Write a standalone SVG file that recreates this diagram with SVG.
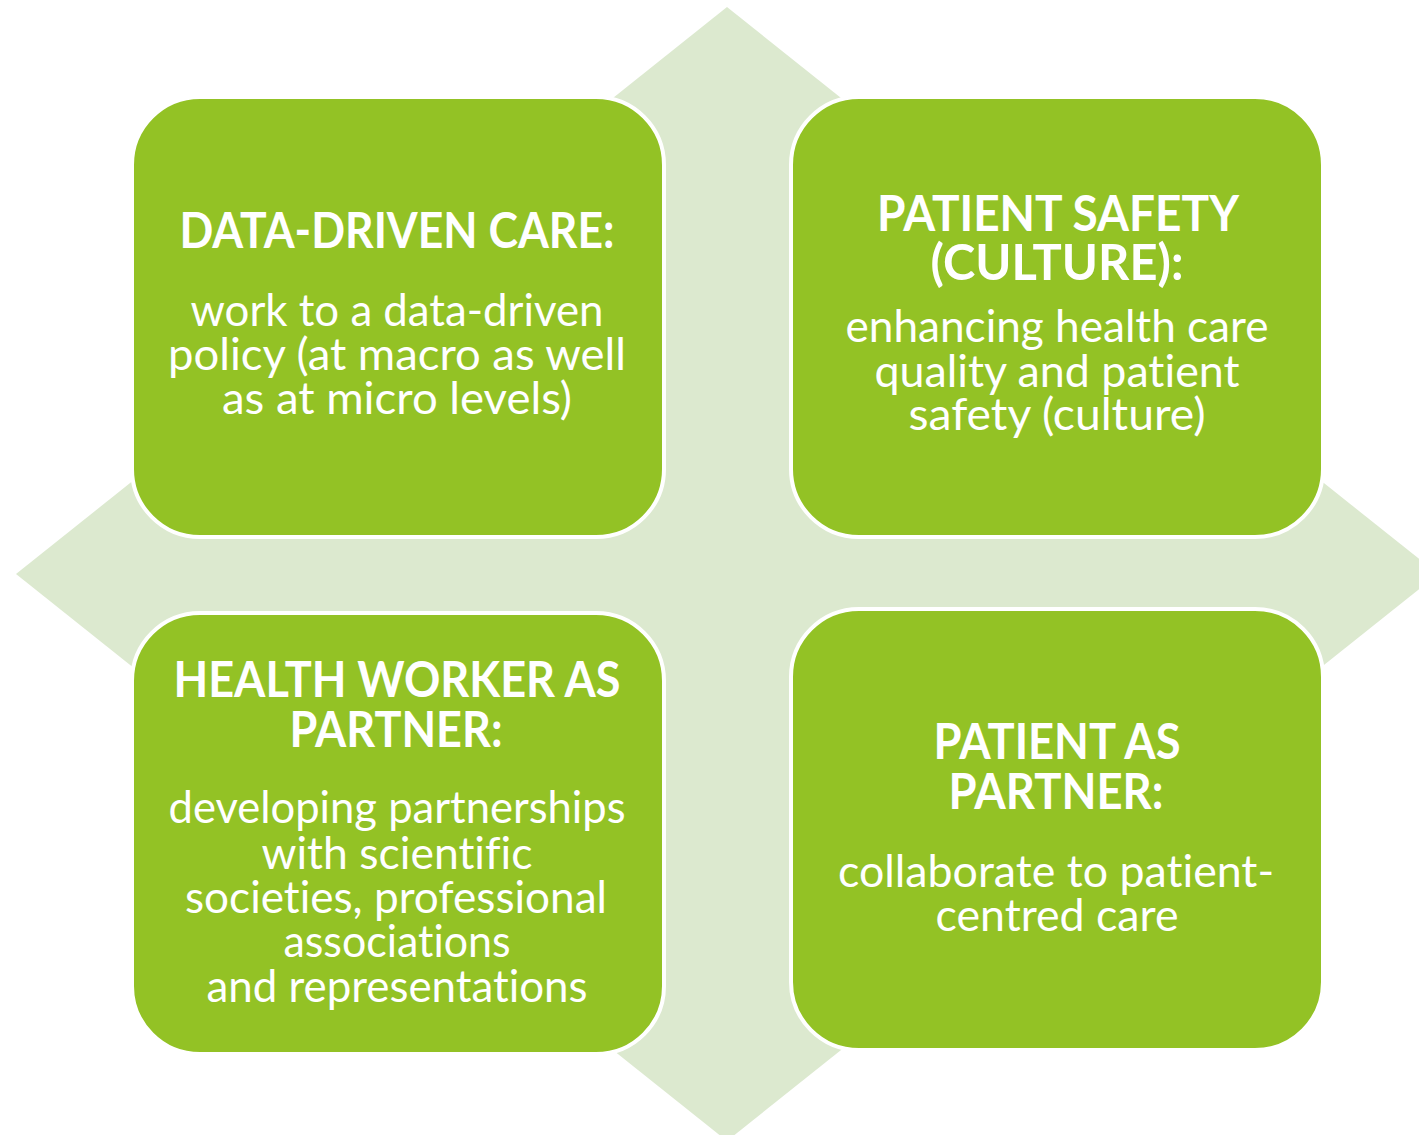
<svg xmlns="http://www.w3.org/2000/svg" width="1419" height="1135" viewBox="0 0 1419 1135">
  <style>
    .box { fill: #93C225; stroke: #FFFFFF; stroke-width: 4; }
    .t { font-family: Lato, "Open Sans", "Liberation Sans", sans-serif; font-weight: bold; font-size: 49px; fill: #FFFFFF; text-anchor: middle; font-variant-ligatures: none; }
    .b { font-family: Lato, "Open Sans", "Liberation Sans", sans-serif; font-size: 44px; fill: #FFFFFF; text-anchor: middle; font-variant-ligatures: none; }
  </style>
  <rect width="1419" height="1135" fill="#FFFFFF"/>
  <polygon id="background-diamond" points="727,7 1438,574 727,1141 16,574" fill="#DCE9CF"/>
  <g id="connectors"></g>
  <g id="node-data-driven-care">
    <rect class="box" x="132" y="97" width="532" height="440" rx="68" ry="68"/>
    <text class="t" x="397" y="248" textLength="435" lengthAdjust="spacingAndGlyphs">DATA-DRIVEN CARE:</text>
    <text class="b" x="397" y="326" textLength="413" lengthAdjust="spacingAndGlyphs">work to a data-driven</text>
    <text class="b" x="397" y="370" textLength="458" lengthAdjust="spacingAndGlyphs">policy (at macro as well</text>
    <text class="b" x="397" y="414" textLength="350" lengthAdjust="spacingAndGlyphs">as at micro levels)</text>
  </g>
  <g id="node-patient-safety">
    <rect class="box" x="791" y="97" width="532" height="440" rx="68" ry="68"/>
    <text class="t" x="1058" y="231" textLength="362" lengthAdjust="spacingAndGlyphs">PATIENT SAFETY</text>
    <text class="t" x="1057" y="280" textLength="253" lengthAdjust="spacingAndGlyphs">(CULTURE):</text>
    <text class="b" x="1057" y="342" textLength="423" lengthAdjust="spacingAndGlyphs">enhancing health care</text>
    <text class="b" x="1057" y="387" textLength="365" lengthAdjust="spacingAndGlyphs">quality and patient</text>
    <text class="b" x="1057" y="430" textLength="297" lengthAdjust="spacingAndGlyphs">safety (culture)</text>
  </g>
  <g id="node-health-worker">
    <rect class="box" x="132" y="613" width="532" height="441" rx="68" ry="68"/>
    <text class="t" x="397" y="697" textLength="447" lengthAdjust="spacingAndGlyphs">HEALTH WORKER AS</text>
    <text class="t" x="396" y="747" textLength="213" lengthAdjust="spacingAndGlyphs">PARTNER:</text>
    <text class="b" x="397" y="823" textLength="457" lengthAdjust="spacingAndGlyphs">developing partnerships</text>
    <text class="b" x="397" y="869" textLength="271" lengthAdjust="spacingAndGlyphs">with scientific</text>
    <text class="b" x="396" y="913" textLength="422" lengthAdjust="spacingAndGlyphs">societies, professional</text>
    <text class="b" x="397" y="957" textLength="227" lengthAdjust="spacingAndGlyphs">associations</text>
    <text class="b" x="397" y="1002" textLength="381" lengthAdjust="spacingAndGlyphs">and representations</text>
  </g>
  <g id="node-patient-partner">
    <rect class="box" x="791" y="609" width="532" height="441" rx="68" ry="68"/>
    <text class="t" x="1057" y="759" textLength="247" lengthAdjust="spacingAndGlyphs">PATIENT AS</text>
    <text class="t" x="1056" y="809" textLength="215" lengthAdjust="spacingAndGlyphs">PARTNER:</text>
    <text class="b" x="1056" y="887" textLength="436" lengthAdjust="spacingAndGlyphs">collaborate to patient-</text>
    <text class="b" x="1057" y="931" textLength="243" lengthAdjust="spacingAndGlyphs">centred care</text>
  </g>
</svg>
